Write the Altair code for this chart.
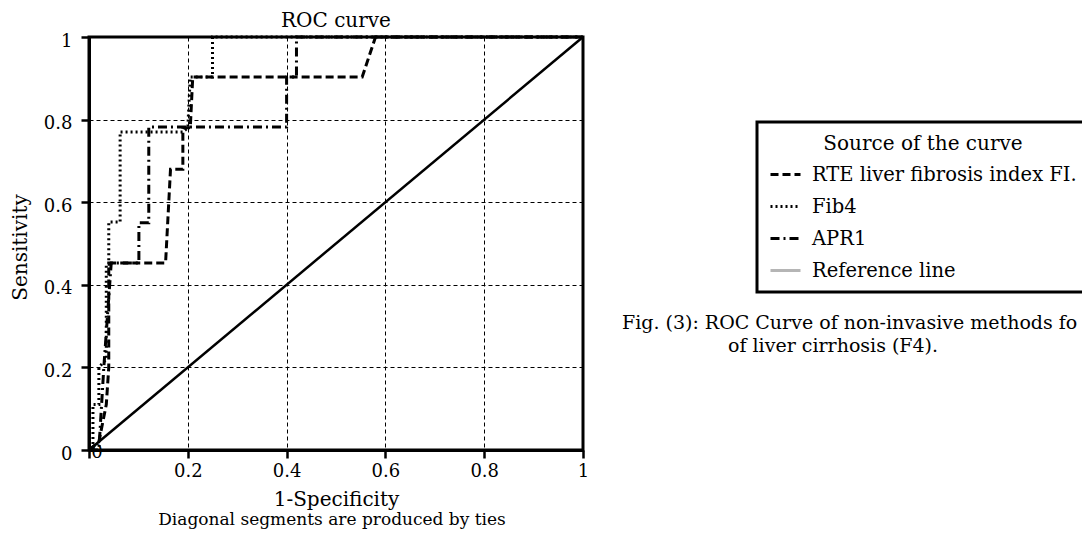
import altair as alt
import pandas as pd

FONT = "DejaVu Serif"

# ---------------- data ----------------
series_names = ["RTE liver fibrosis index FI.", "Fib4", "APR1"]
legend_names = ["RTE liver fibrosis index FI.", "Fib4", "APR1", "Reference line"]
legend_colors = ["black", "black", "black", "#b5b5b5"]
legend_dashes = [[8, 4], [2, 3], [9, 4, 2, 4], [1, 0]]

rte_x = [0.0, 0.02, 0.035, 0.04, 0.04, 0.155, 0.165, 0.19, 0.19, 0.205, 0.21, 0.553, 0.58, 1.0]
rte_y = [0.0, 0.02, 0.11, 0.2, 0.453, 0.453, 0.68, 0.68, 0.78, 0.78, 0.903, 0.903, 1.0, 1.0]

fib4_x = [0.0, 0.008, 0.008, 0.02, 0.02, 0.035, 0.035, 0.04, 0.04, 0.063, 0.063, 0.19, 0.2, 0.205, 0.25, 0.25, 1.0]
fib4_y = [0.0, 0.0, 0.11, 0.11, 0.2, 0.22, 0.45, 0.45, 0.552, 0.552, 0.77, 0.77, 0.78, 0.903, 0.903, 1.0, 1.0]

apr1_x = [0.0, 0.02, 0.025, 0.03, 0.045, 0.101, 0.101, 0.121, 0.121, 0.4, 0.4, 0.42, 0.42, 1.0]
apr1_y = [0.0, 0.0, 0.1, 0.2, 0.453, 0.453, 0.55, 0.55, 0.782, 0.782, 0.903, 0.903, 1.0, 1.0]

ref_x = [0.0, 1.0]
ref_y = [0.0, 1.0]

tick_values = [0, 0.2, 0.4, 0.6, 0.8, 1]
zero_label = ["0"]
chart_title = ["ROC curve"]
x_subtitle = ["Diagonal segments are produced by ties"]
caption_lines = ["Fig. (3): ROC Curve of non-invasive methods fo", "of liver cirrhosis (F4)."]

# ---------------- tables ----------------
rows = []
for name, xs, ys in zip(series_names, [rte_x, fib4_x, apr1_x], [rte_y, fib4_y, apr1_y]):
    for i, (a, b) in enumerate(zip(xs, ys)):
        rows.append({"series": name, "fpr": a, "tpr": b, "idx": i})
curves_df = pd.DataFrame(rows)
ref_df = pd.DataFrame({"fpr": ref_x, "tpr": ref_y, "idx": list(range(len(ref_x)))})
zero_df = pd.DataFrame({"fpr": [0.0], "tpr": [0.0], "label": zero_label})
title_df = pd.DataFrame({"t": chart_title})
sub_df = pd.DataFrame({"t": x_subtitle})
cap1_df = pd.DataFrame({"t": [caption_lines[0]]})
cap2_df = pd.DataFrame({"t": [caption_lines[1]]})

# ---------------- scales / axes ----------------
xscale = alt.Scale(domain=[0, 1], nice=False, zero=False)
yscale = alt.Scale(domain=[0, 1], nice=False, zero=False)

common_axis = dict(
    values=tick_values,
    grid=True, gridColor="black", gridDash=[4, 3], gridWidth=1, gridOpacity=1,
    domainColor="black", domainWidth=3,
    tickColor="black", tickWidth=2.5, tickSize=8,
    labelFont=FONT, labelFontSize=18, labelColor="black",
    titleFont=FONT, titleFontSize=20, titleFontWeight="normal", titleColor="black",
    labelFlush=False, labelOverlap=False,
)

x_axis = alt.Axis(
    title="1-Specificity",
    labelExpr="datum.value == 0 ? '' : format(datum.value, '~g')",
    labelPadding=4,
    titleX=247, titleY=55, titleAlign="center", titleBaseline="alphabetic",
    **common_axis,
)
y_axis = alt.Axis(
    title="Sensitivity",
    format="~g",
    labelPadding=9, labelOffset=4,
    titleX=-69, titleY=210, titleAngle=270, titleAlign="center", titleBaseline="middle",
    **common_axis,
)

x_enc = alt.X("fpr:Q", scale=xscale, axis=x_axis)
y_enc = alt.Y("tpr:Q", scale=yscale, axis=y_axis)

leg = alt.Legend(
    title="Source of the curve", orient="none", legendX=668, legendY=85,
    symbolType="stroke", symbolSize=900, symbolStrokeWidth=3,
    labelFont=FONT, labelFontSize=19.5, labelColor="black", labelOffset=10, labelLimit=0,
    titleFont=FONT, titleFontSize=20, titleFontWeight="normal", titleColor="black",
    titleAnchor="middle", titlePadding=4, titleLimit=0,
    padding=12, rowPadding=6, strokeColor="black",
)

curves = alt.Chart(curves_df).mark_line(strokeWidth=3).encode(
    x=x_enc,
    y=y_enc,
    color=alt.Color("series:N", scale=alt.Scale(domain=legend_names, range=legend_colors), legend=leg),
    strokeDash=alt.StrokeDash("series:N", scale=alt.Scale(domain=legend_names, range=legend_dashes), legend=leg),
    order=alt.Order("idx:Q"),
)

ref_line = alt.Chart(ref_df).mark_line(color="black", strokeWidth=2.5).encode(
    x=x_enc, y=y_enc, order=alt.Order("idx:Q")
)

zero_text = alt.Chart(zero_df).mark_text(
    font=FONT, fontSize=18, color="black", dx=8, dy=3, align="center", baseline="middle"
).encode(x=x_enc, y=y_enc, text="label:N")

title_text = alt.Chart(title_df).mark_text(
    font=FONT, fontSize=20, color="black", align="center", baseline="alphabetic"
).encode(x=alt.value(247), y=alt.value(-10), text="t:N")

sub_text = alt.Chart(sub_df).mark_text(
    font=FONT, fontSize=17, color="black", align="center", baseline="alphabetic"
).encode(x=alt.value(243), y=alt.value(488), text="t:N")

cap1 = alt.Chart(cap1_df).mark_text(
    font=FONT, fontSize=19, color="black", align="left", baseline="alphabetic"
).encode(x=alt.value(533), y=alt.value(292), text="t:N")

cap2 = alt.Chart(cap2_df).mark_text(
    font=FONT, fontSize=19, color="black", align="left", baseline="alphabetic"
).encode(x=alt.value(639), y=alt.value(315), text="t:N")

chart = alt.layer(curves, ref_line, zero_text, title_text, sub_text, cap1, cap2).properties(
    width=494,
    height=413,
    padding={"left": 81, "top": 29, "right": 499, "bottom": 80},
    autosize=alt.AutoSizeParams(type="none"),
).configure_view(stroke="black", strokeWidth=3).configure_legend(strokeWidth=3)

chart.save("out.html", embed_options={"renderer": "svg", "actions": False})
